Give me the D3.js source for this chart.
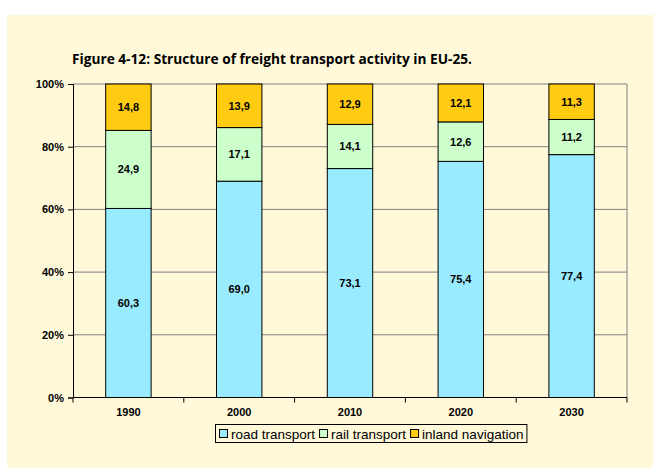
<!DOCTYPE html>
<html>
<head>
<meta charset="utf-8">
<script src="https://cdn.jsdelivr.net/npm/d3@7"></script>
<style>
  html, body { margin: 0; padding: 0; background: #fff; }
  svg { display: block; }
</style>
</head>
<body>
<script>
// Freight transport modal split, EU-25 (shares in %)
const years = ["1990", "2000", "2010", "2020", "2030"];
const roadTransport = [60.3, 69.0, 73.1, 75.4, 77.4];
const railTransport = [24.9, 17.1, 14.1, 12.6, 11.2];
const inlandNavigation = [14.8, 13.9, 12.9, 12.1, 11.3];
const seriesNames = ["road transport", "rail transport", "inland navigation"];
const seriesColors = ["#99EBFF", "#CCFFCC", "#FFCC11"];
const yTicks = [0, 20, 40, 60, 80, 100];

const FONT = "'Liberation Sans', Arial, sans-serif";
const W = 653, H = 471;
const svg = d3.select("body").append("svg").attr("width", W).attr("height", H);

// cream panel
svg.append("rect").attr("x", 7).attr("y", 15).attr("width", W - 7).attr("height", 453)
  .attr("fill", "#FFF9DA");

svg.append("text")
  .attr("x", 72).attr("y", 64)
  .attr("font-family", "'Open Sans', sans-serif")
  .attr("font-weight", "bold").attr("font-size", 14.5)
  .attr("textLength", 400).attr("lengthAdjust", "spacingAndGlyphs")
  .attr("fill", "#000")
  .text("Figure 4-12: Structure of freight transport activity in EU-25.");

const m = { left: 73, right: 627, top: 84, bottom: 397.5 };

const x = d3.scaleBand().domain(years).range([m.left, m.right]).paddingInner(0.59).paddingOuter(0.295);
const y = d3.scaleLinear().domain([0, 100]).range([m.bottom, m.top]);

// rows normalised to 100 %, as a percent-stacked chart does
const rows = years.map((yr, i) => {
  const tot = roadTransport[i] + railTransport[i] + inlandNavigation[i];
  return {
    year: yr,
    "road transport": roadTransport[i] / tot * 100,
    "rail transport": railTransport[i] / tot * 100,
    "inland navigation": inlandNavigation[i] / tot * 100,
    labels: [roadTransport[i], railTransport[i], inlandNavigation[i]]
  };
});
const stacked = d3.stack().keys(seriesNames)(rows);

// gridlines
const g = svg.append("g");
g.selectAll("line.grid").data(yTicks.filter(t => t > 0)).join("line")
  .attr("x1", m.left).attr("x2", m.right)
  .attr("y1", d => y(d)).attr("y2", d => y(d))
  .attr("stroke", "#808080").attr("stroke-width", 1);
// right border
g.append("line").attr("x1", m.right).attr("x2", m.right).attr("y1", m.top).attr("y2", m.bottom)
  .attr("stroke", "#808080");

// bars and value labels
stacked.forEach((s, si) => {
  svg.append("g").selectAll("rect").data(s).join("rect")
    .attr("x", d => x(d.data.year))
    .attr("width", x.bandwidth())
    .attr("y", d => y(d[1]))
    .attr("height", d => y(d[0]) - y(d[1]))
    .attr("fill", seriesColors[si])
    .attr("stroke", "#000").attr("stroke-width", 1);
  svg.append("g").selectAll("text").data(s).join("text")
    .attr("x", d => x(d.data.year) + x.bandwidth() / 2)
    .attr("y", d => (y(d[0]) + y(d[1])) / 2 + 4)
    .attr("text-anchor", "middle")
    .attr("font-family", FONT)
    .attr("font-weight", "bold").attr("font-size", 11)
    .text(d => d3.format(".1f")(d.data.labels[si]).replace(".", ","));
});

// y axis
const yAxis = d3.axisLeft(y).tickValues(yTicks).tickFormat(d => d + "%").tickSize(5).tickPadding(4);
const ya = svg.append("g").attr("transform", `translate(${m.left},0)`).call(yAxis);
// x axis
const xAxis = d3.axisBottom(x).tickSize(0).tickPadding(11);
const xa = svg.append("g").attr("transform", `translate(0,${m.bottom})`).call(xAxis);
// category boundary ticks
xa.selectAll("line.bound").data(d3.range(years.length + 1)).join("line")
  .attr("class", "bound")
  .attr("x1", i => m.left + i * x.step()).attr("x2", i => m.left + i * x.step())
  .attr("y1", 0).attr("y2", 5).attr("stroke", "#000");

[ya, xa].forEach(a => {
  a.select(".domain").attr("stroke", "#000");
  a.selectAll(".tick line").attr("stroke", "#000");
  a.selectAll("text").attr("fill", "#000")
    .attr("font-family", FONT)
    .attr("font-weight", "bold").attr("font-size", 11);
});
xa.select(".domain").attr("d", `M${m.left},0H${m.right}`);

// legend
const lg = svg.append("g");
const box = lg.append("rect").attr("y", 424.5).attr("height", 18)
  .attr("fill", "#FFF9DA").attr("stroke", "#000");
let lx = 219;
seriesNames.forEach((n, i) => {
  lg.append("rect").attr("x", lx + 0.5).attr("y", 429.5).attr("width", 8).attr("height", 8)
    .attr("fill", seriesColors[i]).attr("stroke", "#000");
  const t = lg.append("text").attr("x", lx + 12).attr("y", 438.5)
    .attr("font-family", FONT).attr("font-size", 13.5)
    .text(n);
  lx += 12 + t.node().getComputedTextLength() + 4;
});
box.attr("x", 215.5).attr("width", lx - 216);
</script>
</body>
</html>
